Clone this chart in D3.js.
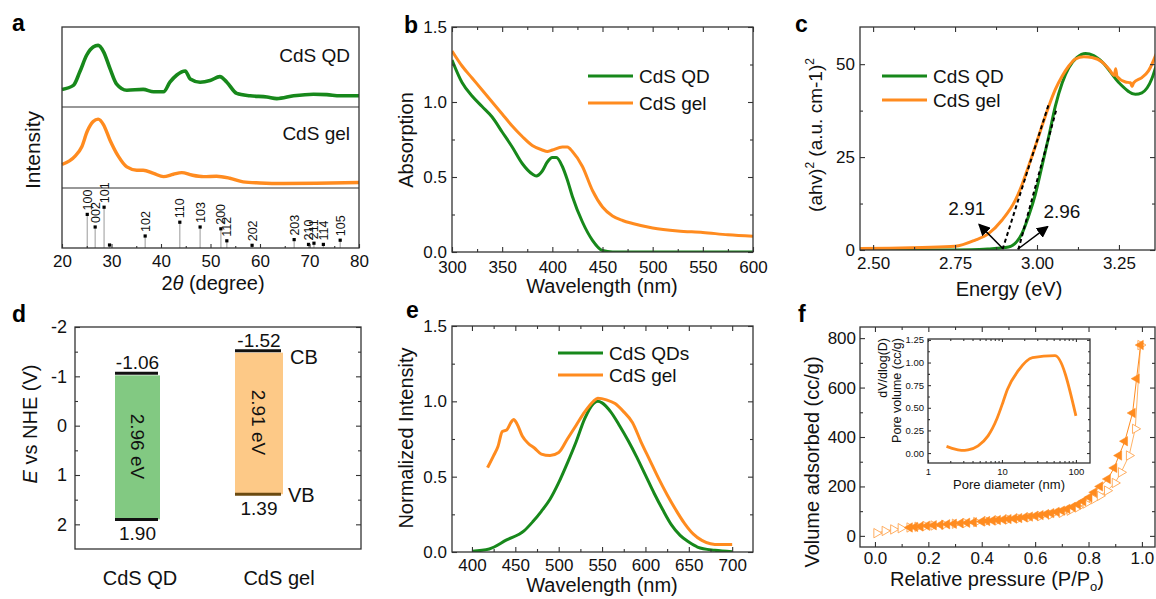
<!DOCTYPE html>
<html>
<head>
<meta charset="utf-8">
<script src="https://cdn.jsdelivr.net/npm/d3@7"></script>
<style>
  body { margin: 0; background: #fff; }
  svg { display: block; }
</style>
</head>
<body>
<svg id="fig" width="1156" height="599"></svg>
<script>
const FONT = '"Liberation Sans", Arial, sans-serif';
const GREEN = '#17881b', ORANGE = '#ff8b1f';

// ---- a: XRD ----
const qdTheta = [20.0, 22.3, 23.6, 25.0, 26.3, 27.3, 28.4, 29.7, 31.0, 33.1, 36.4, 38.5, 40.5, 41.8, 43.2, 44.9, 45.9, 47.9, 49.9, 51.9, 53.3, 55.3, 58.0, 61.4, 63.4, 66.8, 70.8, 73.5, 76.2, 80.0];
const qdXrd = [0.22, 0.27, 0.44, 0.65, 0.75, 0.77, 0.69, 0.48, 0.29, 0.21, 0.22, 0.19, 0.19, 0.31, 0.40, 0.45, 0.35, 0.31, 0.33, 0.38, 0.31, 0.17, 0.14, 0.125, 0.105, 0.14, 0.16, 0.155, 0.14, 0.14];
const gelTheta = [20.0, 22.6, 24.0, 25.1, 26.3, 27.3, 28.4, 29.7, 31.4, 33.1, 35.1, 36.4, 38.5, 40.5, 42.5, 44.2, 46.2, 48.6, 51.2, 53.9, 56.6, 60.0, 64.7, 71.4, 80.0];
const gelXrd = [0.29, 0.39, 0.51, 0.70, 0.82, 0.85, 0.78, 0.59, 0.39, 0.26, 0.22, 0.22, 0.18, 0.14, 0.17, 0.19, 0.16, 0.14, 0.145, 0.12, 0.075, 0.062, 0.055, 0.058, 0.067];
const refHkl = ['100', '002', '101', '', '102', '110', '103', '200', '112', '202', '203', '210', '211', '114', '105'];
const refTheta = [25.1, 26.7, 28.5, 29.6, 36.8, 43.8, 47.9, 52.1, 53.3, 58.4, 66.9, 69.8, 70.9, 72.8, 76.2];
const refInt = [0.56, 0.35, 0.68, 0.05, 0.20, 0.43, 0.35, 0.32, 0.12, 0.045, 0.14, 0.06, 0.08, 0.06, 0.13];

// ---- b: absorption ----
const absWlQd = [300, 310, 320, 330, 340, 350, 360, 370, 380, 384, 390, 395, 400, 404, 410, 415, 420, 430, 440, 450, 460, 500, 600];
const absQd = [1.28, 1.13, 1.04, 0.97, 0.90, 0.80, 0.70, 0.59, 0.52, 0.507, 0.54, 0.60, 0.63, 0.63, 0.57, 0.48, 0.37, 0.20, 0.078, 0.01, 0, 0, 0];
const absWlGel = [300, 310, 320, 330, 340, 350, 360, 370, 380, 390, 395, 400, 410, 415, 420, 430, 440, 450, 460, 470, 480, 500, 525, 550, 575, 600];
const absGel = [1.34, 1.24, 1.16, 1.08, 1.0, 0.92, 0.84, 0.77, 0.71, 0.68, 0.67, 0.68, 0.70, 0.70, 0.67, 0.57, 0.41, 0.30, 0.24, 0.21, 0.19, 0.16, 0.14, 0.13, 0.115, 0.105];

// ---- c: Tauc plot ----
const taucEQd = [2.46, 2.6, 2.7, 2.8, 2.85, 2.913, 2.954, 2.974, 2.995, 3.015, 3.036, 3.056, 3.077, 3.097, 3.122, 3.148, 3.173, 3.2, 3.25, 3.30, 3.32, 3.35, 3.365];
const taucQd = [0, 0, 0, 0.1, 0.3, 0.8, 4.4, 9, 15, 22.5, 30.6, 38.7, 45, 49, 51.8, 52.9, 52.3, 50.5, 45, 41.9, 42.3, 46, 50];
const taucEGel = [2.46, 2.55, 2.65, 2.75, 2.81, 2.852, 2.893, 2.934, 2.954, 2.974, 2.995, 3.015, 3.036, 3.056, 3.077, 3.097, 3.117, 3.143, 3.168, 3.2, 3.22, 3.236, 3.24, 3.244, 3.27, 3.285, 3.29, 3.295, 3.32, 3.34, 3.365];
const taucGel = [0.4, 0.5, 0.7, 1.0, 2.6, 4.4, 8, 13.4, 17.5, 22.5, 27.9, 33.3, 38.7, 43.2, 46.8, 49.5, 51.4, 52, 51.8, 50.5, 48.6, 47, 48.8, 46.7, 45.2, 45, 44, 45, 46.4, 48.2, 53];
const tangentQd = [[2.943, 0.1], [3.06, 38.1]];
const tangentGel = [[2.895, 0.2], [3.035, 39]];
const gapArrows = [
  { from: [2.895, 0.45], to: [2.823, 6.9], text: '2.91', at: [2.786, 9.4] },
  { from: [2.941, 0.2], to: [3.033, 6.3], text: '2.96', at: [3.076, 8.6] }
];

// ---- d: band positions ----
const bandSamples = ['CdS QD', 'CdS gel'];
const bandCB = [-1.06, -1.52];
const bandVB = [1.90, 1.39];
const bandGap = ['2.96 eV', '2.91 eV'];

// ---- e: PL ----
const plWlQd = [400, 420, 440, 460, 470, 480, 490, 500, 510, 520, 530, 540, 545, 550, 560, 570, 580, 590, 600, 610, 620, 630, 640, 650, 660, 680, 700];
const plQd = [0.005, 0.02, 0.08, 0.14, 0.2, 0.27, 0.35, 0.46, 0.59, 0.73, 0.885, 0.985, 1.0, 0.99, 0.93, 0.84, 0.74, 0.63, 0.51, 0.39, 0.28, 0.18, 0.11, 0.066, 0.033, 0.011, 0.002];
const plWlGel = [418, 425, 430, 435, 440, 445, 448, 452, 458, 465, 472, 480, 490, 500, 510, 520, 530, 540, 545, 555, 565, 575, 585, 595, 605, 615, 625, 635, 645, 655, 665, 675, 685, 700];
const plGel = [0.56, 0.64, 0.70, 0.80, 0.81, 0.86, 0.88, 0.85, 0.77, 0.72, 0.69, 0.65, 0.64, 0.66, 0.75, 0.84, 0.93, 1.0, 1.02, 1.01, 0.985, 0.93, 0.86, 0.73, 0.61, 0.49, 0.38, 0.28, 0.19, 0.12, 0.077, 0.055, 0.049, 0.05];

// ---- f: N2 isotherm + pore size ----
const adsP = [0.006, 0.037, 0.069, 0.097, 0.13, 0.16, 0.19, 0.22, 0.26, 0.30, 0.34, 0.38, 0.42, 0.46, 0.50, 0.54, 0.58, 0.62, 0.66, 0.70, 0.73, 0.76, 0.79, 0.821, 0.843, 0.870, 0.899, 0.922, 0.952, 0.975, 0.995];
const adsV = [11, 20, 26, 31, 34, 37, 40, 42, 45, 49, 52, 56, 60, 63, 67, 71, 75, 80, 86, 93, 102, 115, 131, 149, 162, 183, 214, 257, 325, 433, 772];
const desP = [0.995, 0.980, 0.965, 0.936, 0.914, 0.896, 0.872, 0.843, 0.821, 0.803, 0.78, 0.76, 0.74, 0.72, 0.70, 0.68, 0.66, 0.64, 0.62, 0.60, 0.58, 0.56, 0.54, 0.52, 0.50, 0.48, 0.46, 0.44, 0.42, 0.40, 0.37, 0.345, 0.32, 0.295, 0.27, 0.245, 0.22, 0.195, 0.17, 0.15, 0.13];
const desV = [772, 636, 497, 383, 325, 275, 230, 200, 176, 156, 140, 127, 117, 109, 102, 97, 92, 88, 84, 81, 78, 75, 72, 70, 68, 66, 64, 62, 60, 58, 55, 53, 51, 49, 47, 45, 43, 41, 38, 36, 34];
const poreD = [1.78, 2.07, 2.83, 3.48, 4.76, 6.48, 8.6, 10.4, 11.8, 16.6, 25.9, 52, 100];
const poreVol = [0.073, 0.055, 0.03, 0.036, 0.08, 0.19, 0.385, 0.57, 0.70, 0.91, 1.054, 1.076, 0.41];

const svg = d3.select('#fig').attr('font-family', FONT);
const defs = svg.append('defs');
defs.append('marker').attr('id', 'arr').attr('viewBox', '0 0 10 10').attr('refX', 9).attr('refY', 5)
  .attr('markerWidth', 8).attr('markerHeight', 8).attr('orient', 'auto-start-reverse')
  .append('path').attr('d', 'M0,0 L10,5 L0,10 z').attr('fill', '#000');

function text(g, x, y, s, size, anchor) {
  return g.append('text').attr('x', x).attr('y', y).attr('font-size', size)
    .attr('text-anchor', anchor || 'start').attr('fill', '#111').text(s);
}

function vtext(g, x, y, s, size, anchor) {
  // rotated -90, (x,y) is the anchor point on screen, x is the baseline
  return g.append('text').attr('transform', `translate(${x},${y}) rotate(-90)`)
    .attr('font-size', size).attr('text-anchor', anchor || 'middle').attr('fill', '#111').text(s);
}

function clip(id, x, y) {
  const [xl, xr] = d3.extent(x.range()), [yt, yb] = d3.extent(y.range());
  defs.append('clipPath').attr('id', id).append('rect')
    .attr('x', xl).attr('y', yt).attr('width', xr - xl).attr('height', yb - yt);
  return `url(#${id})`;
}

function boxAxes(g, x, y, o) {
  const [xl, xr] = d3.extent(x.range()), [yt, yb] = d3.extent(y.range());
  const fs = o.fs || 17;
  function side(axisFn, scale, tr, vals, fmt, len, pad) {
    if (!vals) return;
    const s = g.append('g').attr('transform', tr)
      .call(axisFn(scale).tickValues(vals).tickSize(-len).tickSizeOuter(0)
        .tickPadding(pad || 0).tickFormat(fmt || (() => '')));
    s.attr('font-family', FONT);
    s.select('.domain').remove();
    s.selectAll('line').attr('stroke', '#333').attr('stroke-width', 1.1);
    s.selectAll('text').attr('font-size', fs).attr('fill', '#111');
  }
  const maj = o.major || 5, min = o.minor || 3;
  side(d3.axisBottom, x, `translate(0,${yb})`, o.x, o.xFmt, maj, o.xPad == null ? 7 : o.xPad);
  side(d3.axisBottom, x, `translate(0,${yb})`, o.xm, null, min);
  side(d3.axisLeft, y, `translate(${xl},0)`, o.y, o.yFmt, maj, o.yPad == null ? 5 : o.yPad);
  side(d3.axisLeft, y, `translate(${xl},0)`, o.ym, null, min);
  if (o.mirror !== false) {
    side(d3.axisTop, x, `translate(0,${yt})`, o.x, null, maj);
    side(d3.axisTop, x, `translate(0,${yt})`, o.xm, null, min);
    side(d3.axisRight, y, `translate(${xr},0)`, o.y, null, maj);
    side(d3.axisRight, y, `translate(${xr},0)`, o.ym, null, min);
  }
  g.append('rect').attr('x', xl).attr('y', yt).attr('width', xr - xl).attr('height', yb - yt)
    .attr('fill', 'none').attr('stroke', '#333').attr('stroke-width', 1.3);
}

function curve(g, xs, ys, x, y, color, width, cp) {
  const pts = xs.map((v, i) => [v, ys[i]]);
  g.append('path').datum(pts).attr('clip-path', cp)
    .attr('fill', 'none').attr('stroke', color).attr('stroke-width', width)
    .attr('stroke-linejoin', 'round')
    .attr('d', d3.line().x(d => x(d[0])).y(d => y(d[1])).curve(d3.curveMonotoneX));
}

function legend(g, x0, y0, dy, items) {
  items.forEach((it, i) => {
    g.append('line').attr('x1', x0).attr('x2', x0 + 45).attr('y1', y0 + i * dy).attr('y2', y0 + i * dy)
      .attr('stroke', it.color).attr('stroke-width', 3);
    text(g, x0 + 51, y0 + i * dy + 7, it.name, 19);
  });
}

function panelLetter(x, y, s) {
  svg.append('text').attr('x', x).attr('y', y).attr('font-size', 23).attr('font-weight', 'bold')
    .attr('fill', '#000').text(s);
}

// ===== panel a =====
{
  const g = svg.append('g');
  const x = d3.scaleLinear().domain([20, 80]).range([62, 359]);
  const yQd = d3.scaleLinear().domain([0, 1]).range([107, 27]);
  const yGel = d3.scaleLinear().domain([0, 1]).range([188, 107]);
  const yRef = d3.scaleLinear().domain([0, 1]).range([248, 188]);

  curve(g, qdTheta, qdXrd, x, yQd, GREEN, 3.6);
  curve(g, gelTheta, gelXrd, x, yGel, ORANGE, 3.4);

  refTheta.forEach((t, i) => {
    g.append('line').attr('x1', x(t)).attr('x2', x(t)).attr('y1', yRef(0)).attr('y2', yRef(refInt[i]))
      .attr('stroke', '#aaa').attr('stroke-width', 1.2);
    g.append('rect').attr('x', x(t) - 1.6).attr('y', yRef(refInt[i]) - 1.6).attr('width', 3.2).attr('height', 3.2)
      .attr('fill', '#000');
    if (refHkl[i]) {
      vtext(g, x(t), yRef(refInt[i]) - 4, refHkl[i], 12.5, 'start').attr('dy', '0.36em');
    }
  });

  g.append('line').attr('x1', 62).attr('x2', 359).attr('y1', yQd(0)).attr('y2', yQd(0)).attr('stroke', '#333').attr('stroke-width', 1.2);
  g.append('line').attr('x1', 62).attr('x2', 359).attr('y1', yGel(0)).attr('y2', yGel(0)).attr('stroke', '#333').attr('stroke-width', 1.2);
  boxAxes(g, x, d3.scaleLinear().range([248, 27]), {
    x: d3.range(20, 81, 10), xm: d3.range(25, 80, 10), xFmt: d3.format('d'), mirror: false, major: 4, minor: 2
  });
  text(g, 350, 62, 'CdS QD', 19, 'end');
  text(g, 350, 140, 'CdS gel', 19, 'end');
  vtext(g, 40, 150, 'Intensity', 21);
  const t = text(g, 213, 290, '2', 20, 'middle');
  t.append('tspan').attr('font-style', 'italic').text('\u03B8');
  t.append('tspan').text(' (degree)');
  panelLetter(12, 31, 'a');
}

// ===== panel b =====
{
  const g = svg.append('g');
  const x = d3.scaleLinear().domain([300, 600]).range([452, 753]);
  const y = d3.scaleLinear().domain([0, 1.5]).range([252, 27]);
  const cp = clip('cb', x, y);
  curve(g, absWlQd, absQd, x, y, GREEN, 3, cp);
  curve(g, absWlGel, absGel, x, y, ORANGE, 3, cp);
  boxAxes(g, x, y, {
    x: d3.range(300, 601, 50), xm: d3.range(325, 600, 50), xFmt: d3.format('d'), xPad: 9,
    y: [0, 0.5, 1.0, 1.5], ym: [0.25, 0.75, 1.25], yFmt: d3.format('.1f')
  });
  legend(g, 588, 76, 27, [{ name: 'CdS QD', color: GREEN }, { name: 'CdS gel', color: ORANGE }]);
  vtext(g, 413, 140, 'Absorption', 20);
  text(g, 602, 293, 'Wavelength (nm)', 20, 'middle');
  panelLetter(404, 33, 'b');
}

// ===== panel c =====
{
  const g = svg.append('g');
  const x = d3.scaleLinear().domain([2.46, 3.36]).range([860, 1155]);
  const y = d3.scaleLinear().domain([0, 60]).range([250, 27]);
  const cp = clip('cc', x, y);
  curve(g, taucEQd, taucQd, x, y, GREEN, 3, cp);
  curve(g, taucEGel, taucGel, x, y, ORANGE, 3, cp);
  [tangentQd, tangentGel].forEach(tl => {
    g.append('line').attr('x1', x(tl[0][0])).attr('y1', y(tl[0][1])).attr('x2', x(tl[1][0])).attr('y2', y(tl[1][1]))
      .attr('stroke', '#000').attr('stroke-width', 2).attr('stroke-dasharray', '4,3');
  });
  gapArrows.forEach(a => {
    g.append('line').attr('x1', x(a.from[0])).attr('y1', y(a.from[1])).attr('x2', x(a.to[0])).attr('y2', y(a.to[1]))
      .attr('stroke', '#000').attr('stroke-width', 1.5).attr('marker-end', 'url(#arr)');
    text(g, x(a.at[0]), y(a.at[1]), a.text, 19, 'middle');
  });
  boxAxes(g, x, y, {
    x: [2.5, 2.75, 3.0, 3.25], xm: [2.625, 2.875, 3.125], xFmt: d3.format('.2f'),
    y: [0, 25, 50], ym: [12.5, 37.5], yFmt: d3.format('d')
  });
  legend(g, 882, 76, 24, [{ name: 'CdS QD', color: GREEN }, { name: 'CdS gel', color: ORANGE }]);
  const t = vtext(g, 822, 135, '(ahv)', 19);
  t.append('tspan').attr('font-size', 12).attr('dy', -8).text('2');
  t.append('tspan').attr('dy', 8).text(' (a.u. cm-1)');
  t.append('tspan').attr('font-size', 12).attr('dy', -8).text('2');
  text(g, 1009, 296, 'Energy (eV)', 20, 'middle');
  panelLetter(795, 32, 'c');
}

// ===== panel d =====
{
  const g = svg.append('g');
  const y = d3.scaleLinear().domain([-2, 2.5]).range([327, 549]);
  const xFrame = d3.scaleLinear().range([75, 361]);
  const xb = d3.scalePoint().domain(bandSamples).range([137.5, 259]);
  const xl = d3.scalePoint().domain(bandSamples).range([140, 279]);
  const fills = ['#82c982', '#fdc987'];
  const bw = [45, 48];
  bandSamples.forEach((s, i) => {
    const cx = xb(s), w = bw[i];
    g.append('rect').attr('x', cx - w / 2).attr('y', y(bandCB[i]) + 2).attr('width', w)
      .attr('height', y(bandVB[i]) - y(bandCB[i]) - 2).attr('fill', fills[i]);
    g.append('line').attr('x1', cx - w / 2).attr('x2', cx + w / 2 - 2).attr('y1', y(bandCB[i])).attr('y2', y(bandCB[i]))
      .attr('stroke', '#111').attr('stroke-width', 3);
    g.append('line').attr('x1', cx - w / 2).attr('x2', cx + w / 2 - 2).attr('y1', y(bandVB[i])).attr('y2', y(bandVB[i]))
      .attr('stroke', i === 0 ? '#111' : '#6b4a10').attr('stroke-width', 3);
    text(g, cx, y(bandCB[i]) - 4, String(bandCB[i].toFixed(2)), 19, 'middle');
    text(g, cx, y(bandVB[i]) + 21, String(bandVB[i].toFixed(2)), 19, 'middle');
    const mid = (y(bandCB[i]) + y(bandVB[i])) / 2;
    g.append('text').attr('transform', `translate(${cx},${mid}) rotate(90)`)
      .attr('text-anchor', 'middle').attr('dy', '0.35em').attr('font-size', 19).attr('fill', '#111').text(bandGap[i]);
    text(g, xl(s), 585, s, 20, 'middle');
  });
  text(g, 290, y(-1.52) + 13, 'CB', 20);
  text(g, 288, y(1.39) + 8, 'VB', 20);
  boxAxes(g, xFrame, y, {
    y: [-2, -1, 0, 1, 2], ym: [-1.5, -0.5, 0.5, 1.5], yFmt: d => String(d), fs: 18, yPad: 8
  });
  const t = vtext(g, 37, 424, '', 20);
  t.append('tspan').attr('font-style', 'italic').text('E');
  t.append('tspan').text(' vs NHE (V)');
  panelLetter(12, 322, 'd');
}

// ===== panel e =====
{
  const g = svg.append('g');
  const x = d3.scaleLinear().domain([377, 724]).range([452, 753]);
  const y = d3.scaleLinear().domain([0, 1.5]).range([552, 326]);
  const cp = clip('ce', x, y);
  curve(g, plWlQd, plQd, x, y, GREEN, 3, cp);
  curve(g, plWlGel, plGel, x, y, ORANGE, 3, cp);
  boxAxes(g, x, y, {
    x: d3.range(400, 701, 50), xm: d3.range(425, 700, 50), xFmt: d3.format('d'),
    y: [0, 0.5, 1.0, 1.5], ym: [0.25, 0.75, 1.25], yFmt: d3.format('.1f')
  });
  legend(g, 558, 353, 22, [{ name: 'CdS QDs', color: GREEN }, { name: 'CdS gel', color: ORANGE }]);
  vtext(g, 413, 438, 'Normalized Intensity', 20);
  text(g, 602, 592, 'Wavelength (nm)', 20, 'middle');
  panelLetter(406, 318, 'e');
}

// ===== panel f =====
{
  const g = svg.append('g');
  const x = d3.scaleLinear().domain([-0.056, 1.049]).range([860, 1155]);
  const y = d3.scaleLinear().domain([-45, 845]).range([547, 327]);
  const cp = clip('cf', x, y);
  const line = d3.line().x(d => x(d[0])).y(d => y(d[1]));
  const ads = adsP.map((p, i) => [p, adsV[i]]);
  const des = desP.map((p, i) => [p, desV[i]]);
  g.append('path').datum(ads).attr('d', line).attr('fill', 'none').attr('stroke', '#ffb366').attr('stroke-width', 1).attr('clip-path', cp);
  g.append('path').datum(des).attr('d', line).attr('fill', 'none').attr('stroke', ORANGE).attr('stroke-width', 1).attr('clip-path', cp);
  const tri = d3.symbol(d3.symbolTriangle, 38)();
  g.selectAll('.ads').data(ads).join('path').attr('d', tri)
    .attr('transform', d => `translate(${x(d[0])},${y(d[1])}) rotate(90)`)
    .attr('fill', '#fff').attr('stroke', '#ffa550').attr('stroke-width', 0.9);
  g.selectAll('.des').data(des).join('path').attr('d', tri)
    .attr('transform', d => `translate(${x(d[0])},${y(d[1])}) rotate(-90)`)
    .attr('fill', ORANGE).attr('stroke', ORANGE).attr('stroke-width', 0.5);
  boxAxes(g, x, y, {
    x: [0, 0.2, 0.4, 0.6, 0.8, 1.0], xm: [0.1, 0.3, 0.5, 0.7, 0.9], xFmt: d3.format('.1f'), xPad: 5,
    y: [0, 200, 400, 600, 800], ym: [100, 300, 500, 700], yFmt: d3.format('d'), yPad: 4
  });
  vtext(g, 819, 462, 'Volume adsorbed (cc/g)', 20);
  const t = text(g, 997, 586, 'Relative pressure (P/P', 20, 'middle');
  t.append('tspan').attr('font-size', 13).attr('dy', 5).text('o');
  t.append('tspan').attr('dy', -5).text(')');
  panelLetter(798, 322, 'f');

  // inset: pore size distribution
  const xi = d3.scaleLog().domain([1, 155]).range([928, 1090]);
  const yi = d3.scaleLinear().domain([-0.11, 1.26]).range([463, 339]);
  g.append('rect').attr('x', 928).attr('y', 339).attr('width', 162).attr('height', 124).attr('fill', '#fff');
  curve(g, poreD, poreVol, xi, yi, ORANGE, 2.8);
  const minorLog = [2, 3, 4, 5, 6, 7, 8, 9, 20, 30, 40, 50, 60, 70, 80, 90];
  boxAxes(g, xi, yi, {
    x: [1, 10, 100], xm: minorLog, xFmt: d3.format('d'), xPad: 5,
    y: [0, 0.25, 0.5, 0.75, 1.0, 1.25], ym: [0.125, 0.375, 0.625, 0.875, 1.125], yFmt: d3.format('.2f'),
    fs: 9.5, major: 3, minor: 2, yPad: 4
  });
  text(g, 1009, 489, 'Pore diameter (nm)', 13, 'middle');
  vtext(g, 887, 338, 'dV/dlog(D)', 12.5, 'end');
  vtext(g, 901, 338, 'Pore volume (cc/g)', 12.5, 'end');
}
</script>
</body>
</html>
